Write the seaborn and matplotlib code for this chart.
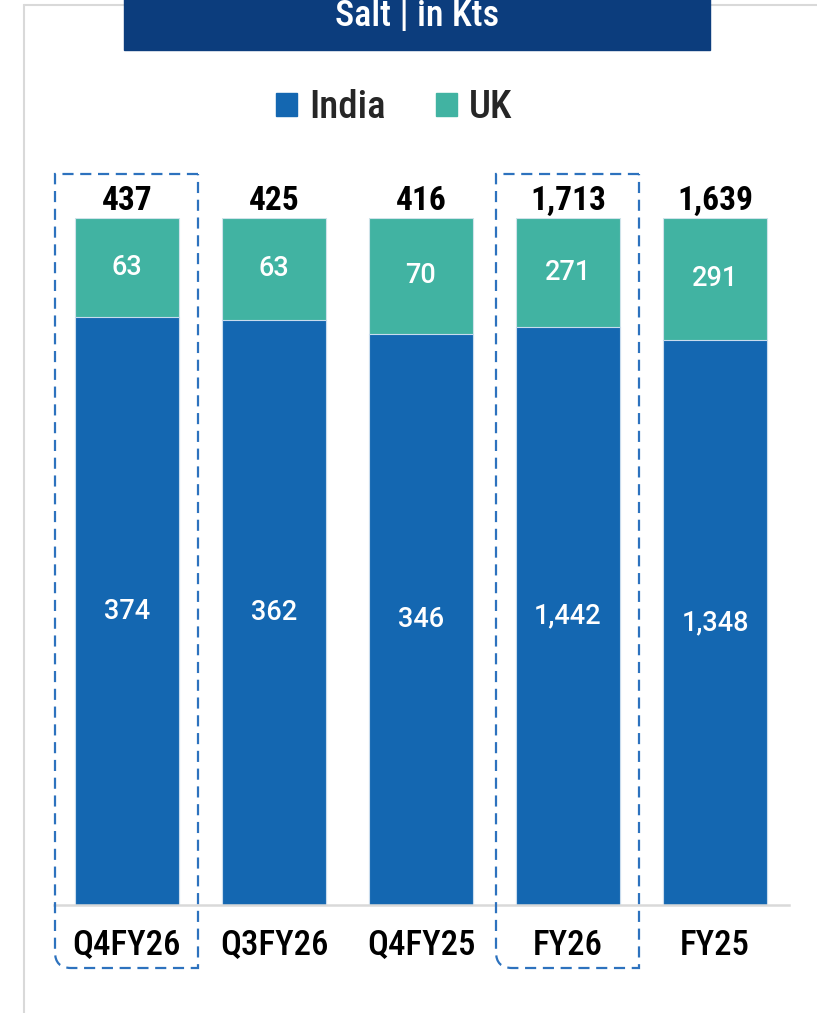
import matplotlib
matplotlib.use("Agg")
import matplotlib.pyplot as plt
import seaborn as sns
import numpy as np
import pandas as pd
from matplotlib.patches import Rectangle, PathPatch
from matplotlib.path import Path
from matplotlib.lines import Line2D

# ---- data ----
categories = ["Q4FY26", "Q3FY26", "Q4FY25", "FY26", "FY25"]
india = [374, 362, 346, 1442, 1348]
uk = [63, 63, 70, 271, 291]
totals = [437, 425, 416, 1713, 1639]
highlighted = ["Q4FY26", "FY26"]
title = "Salt | in Kts"

INDIA_C = "#1467B1"
UK_C = "#41B3A2"
BANNER_C = "#0C3D7D"
DASH_C = "#2D72BE"

sns.set_theme(style="white")
plt.rcParams["font.family"] = ["Liberation Sans", "DejaVu Sans"]
NARROW = ["Roboto Condensed", "Liberation Sans Narrow", "Liberation Sans", "DejaVu Sans"]

W, H = 817, 1013
fig = plt.figure(figsize=(W / 100, H / 100), dpi=100)

# axes placement (pixel based)
left_px, right_px = 53.5, 788.5
bot_px, top_px = 905, 218
ax = fig.add_axes([left_px / W, 1 - bot_px / H, (right_px - left_px) / W, (bot_px - top_px) / H])

df = pd.DataFrame({"cat": categories, "india": india, "uk": uk, "total": totals})
df["full"] = df["total"] / df["total"]
df["india_frac"] = df["india"] / df["total"]

sns.barplot(data=df, x="cat", y="full", color=UK_C, saturation=1, width=0.707,
            edgecolor="#cfe3ea", linewidth=0.8, ax=ax)
sns.barplot(data=df, x="cat", y="india_frac", color=INDIA_C, saturation=1, width=0.707,
            edgecolor="#c9dcee", linewidth=0.8, ax=ax)

ax.set_xlim(-0.5, len(categories) - 0.5)
ax.set_ylim(0, 1)
ax.set_xlabel("")
ax.set_ylabel("")
ax.set_yticks([])
for s in ["top", "left", "right"]:
    ax.spines[s].set_visible(False)
ax.spines["bottom"].set_color("#d9d9d9")
ax.spines["bottom"].set_linewidth(1.8)
ax.tick_params(axis="x", length=0, pad=17)
ax.set_xticks(range(len(categories)))
ax.set_xticklabels(categories, fontsize=25, family=NARROW, fontweight="medium", color="black")

# labels
for i, r in df.iterrows():
    fi = r["india_frac"]
    ax.text(i, fi / 2, f"{r['india']:,}", ha="center", va="center", color="white",
            fontsize=19.5, family=["Roboto", "Liberation Sans", "DejaVu Sans"], fontweight="medium")
    ax.text(i, fi + (1 - fi) / 2, f"{r['uk']:,}", ha="center", va="center", color="white",
            fontsize=19.5, family=["Roboto", "Liberation Sans", "DejaVu Sans"], fontweight="medium")
    ax.text(i, 1.0 + 8 / 687, f"{r['total']:,}", ha="center", va="baseline", color="black",
            fontsize=24, fontweight="bold", family=NARROW)

# dashed highlight boxes (bottom-left corner rounded)
px_x = (right_px - left_px) / len(categories)  # px per data unit x
px_y = (bot_px - top_px)  # px per data unit y
for c in highlighted:
    i = categories.index(c)
    x0, x1 = i - 72 / px_x, i + 71 / px_x
    y1 = (bot_px - 174) / px_y
    y0 = (bot_px - 968) / px_y
    rx, ry = 16 / px_x, 16 / px_y
    verts = [(x1, y1), (x0, y1), (x0, y0 + ry), (x0, y0), (x0 + rx, y0), (x1, y0), (x1, y1)]
    codes = [Path.MOVETO, Path.LINETO, Path.LINETO, Path.CURVE3, Path.CURVE3, Path.LINETO, Path.LINETO]
    ax.add_patch(PathPatch(Path(verts, codes), fill=False, edgecolor=DASH_C, linewidth=1.6,
                           linestyle=(0, (5, 3)), clip_on=False, zorder=5))

# outer frame
fig.add_artist(Line2D([24 / W, 24 / W], [0, 1 - 5 / H], color="#d9d9d9", lw=1.5))
fig.add_artist(Line2D([24 / W, 1], [1 - 5 / H, 1 - 5 / H], color="#d9d9d9", lw=1.5))

# banner
fig.add_artist(Rectangle((124 / W, 1 - 50 / H), (710 - 124) / W, 50 / H + 0.01,
                         transform=fig.transFigure, color=BANNER_C, zorder=10))
fig.text(417 / W, 1 - 16 / H, title, ha="center", va="center", color="white",
         fontsize=26, family=NARROW, fontweight="medium", zorder=11)

# legend
handles = [Rectangle((0, 0), 1, 1, color=INDIA_C), Rectangle((0, 0), 1, 1, color=UK_C)]
fig.legend(handles, ["India", "UK"], loc="center", bbox_to_anchor=(394 / W, 1 - 108 / H),
           ncol=2, frameon=False, handlelength=0.55, handleheight=0.55, handletextpad=0.3,
           columnspacing=1.3, prop={"family": NARROW, "size": 28, "weight": "medium"})

fig.savefig("out.png", dpi=100)
